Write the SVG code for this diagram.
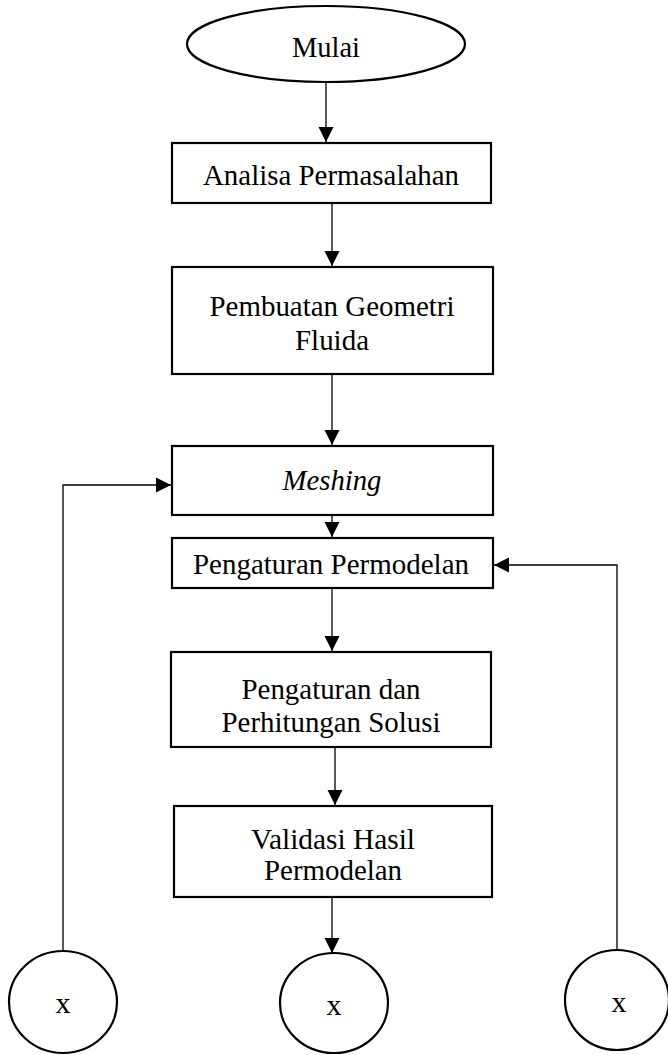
<svg xmlns="http://www.w3.org/2000/svg" width="668" height="1055" viewBox="0 0 668 1055">
<style>
.n{fill:#fff;stroke:#000;stroke-width:2.2}
.t{font-family:"Liberation Serif","Times New Roman",serif;font-size:30px;fill:#000;text-anchor:middle}
.c{fill:none;stroke:#000;stroke-width:1.3}
</style>
<defs>
<marker id="ah" viewBox="0 0 15 20" refX="15" refY="10" markerWidth="15" markerHeight="20" markerUnits="userSpaceOnUse" orient="auto">
<path d="M0,2.5 L15,10 L0,17.5 Z" fill="#000"/>
</marker>
</defs>
<g id="connectors">
<path class="c" d="M326,83 V142" marker-end="url(#ah)"/>
<path class="c" d="M332,203 V266" marker-end="url(#ah)"/>
<path class="c" d="M332,374 V445" marker-end="url(#ah)"/>
<path class="c" d="M332,515 V537" marker-end="url(#ah)"/>
<path class="c" d="M332,589 V651" marker-end="url(#ah)"/>
<path class="c" d="M335,747 V805" marker-end="url(#ah)"/>
<path class="c" d="M332,897 V953" marker-end="url(#ah)"/>
<path class="c" d="M63,951 V485 H171" marker-end="url(#ah)"/>
<path class="c" d="M617,950 V565 H494" marker-end="url(#ah)"/>
</g>
<g id="start"><ellipse class="n" cx="326" cy="44" rx="139" ry="38"/><text class="t" x="326" y="57" textLength="68" lengthAdjust="spacingAndGlyphs">Mulai</text></g>
<g id="analisa"><rect class="n" x="172" y="143" width="319" height="60"/><text class="t" x="331" y="185" textLength="256" lengthAdjust="spacingAndGlyphs">Analisa Permasalahan</text></g>
<g id="geometri"><rect class="n" x="172" y="267" width="321" height="107"/><text class="t" x="332" y="316" textLength="245" lengthAdjust="spacingAndGlyphs">Pembuatan Geometri</text><text class="t" x="332" y="350" textLength="74" lengthAdjust="spacingAndGlyphs">Fluida</text></g>
<g id="meshing"><rect class="n" x="172" y="446" width="321" height="69"/><text class="t" x="332" y="490" font-style="italic" textLength="99" lengthAdjust="spacingAndGlyphs">Meshing</text></g>
<g id="permodelan"><rect class="n" x="172" y="538" width="321" height="50"/><text class="t" x="331" y="574" textLength="276" lengthAdjust="spacingAndGlyphs">Pengaturan Permodelan</text></g>
<g id="solusi"><rect class="n" x="171" y="652" width="320" height="95"/><text class="t" x="331" y="699" textLength="179" lengthAdjust="spacingAndGlyphs">Pengaturan dan</text><text class="t" x="331" y="732" textLength="219" lengthAdjust="spacingAndGlyphs">Perhitungan Solusi</text></g>
<g id="validasi"><rect class="n" x="174" y="806" width="318" height="91"/><text class="t" x="333" y="849" textLength="164" lengthAdjust="spacingAndGlyphs">Validasi Hasil</text><text class="t" x="333" y="880" textLength="138" lengthAdjust="spacingAndGlyphs">Permodelan</text></g>
<g id="conn-left"><ellipse class="n" cx="63" cy="1002" rx="54" ry="51"/><text class="t" x="63" y="1013">x</text></g>
<g id="conn-mid"><ellipse class="n" cx="334" cy="1003" rx="54" ry="50"/><text class="t" x="334" y="1015">x</text></g>
<g id="conn-right"><ellipse class="n" cx="617" cy="1000" rx="52" ry="50"/><text class="t" x="619" y="1012">x</text></g>
</svg>
